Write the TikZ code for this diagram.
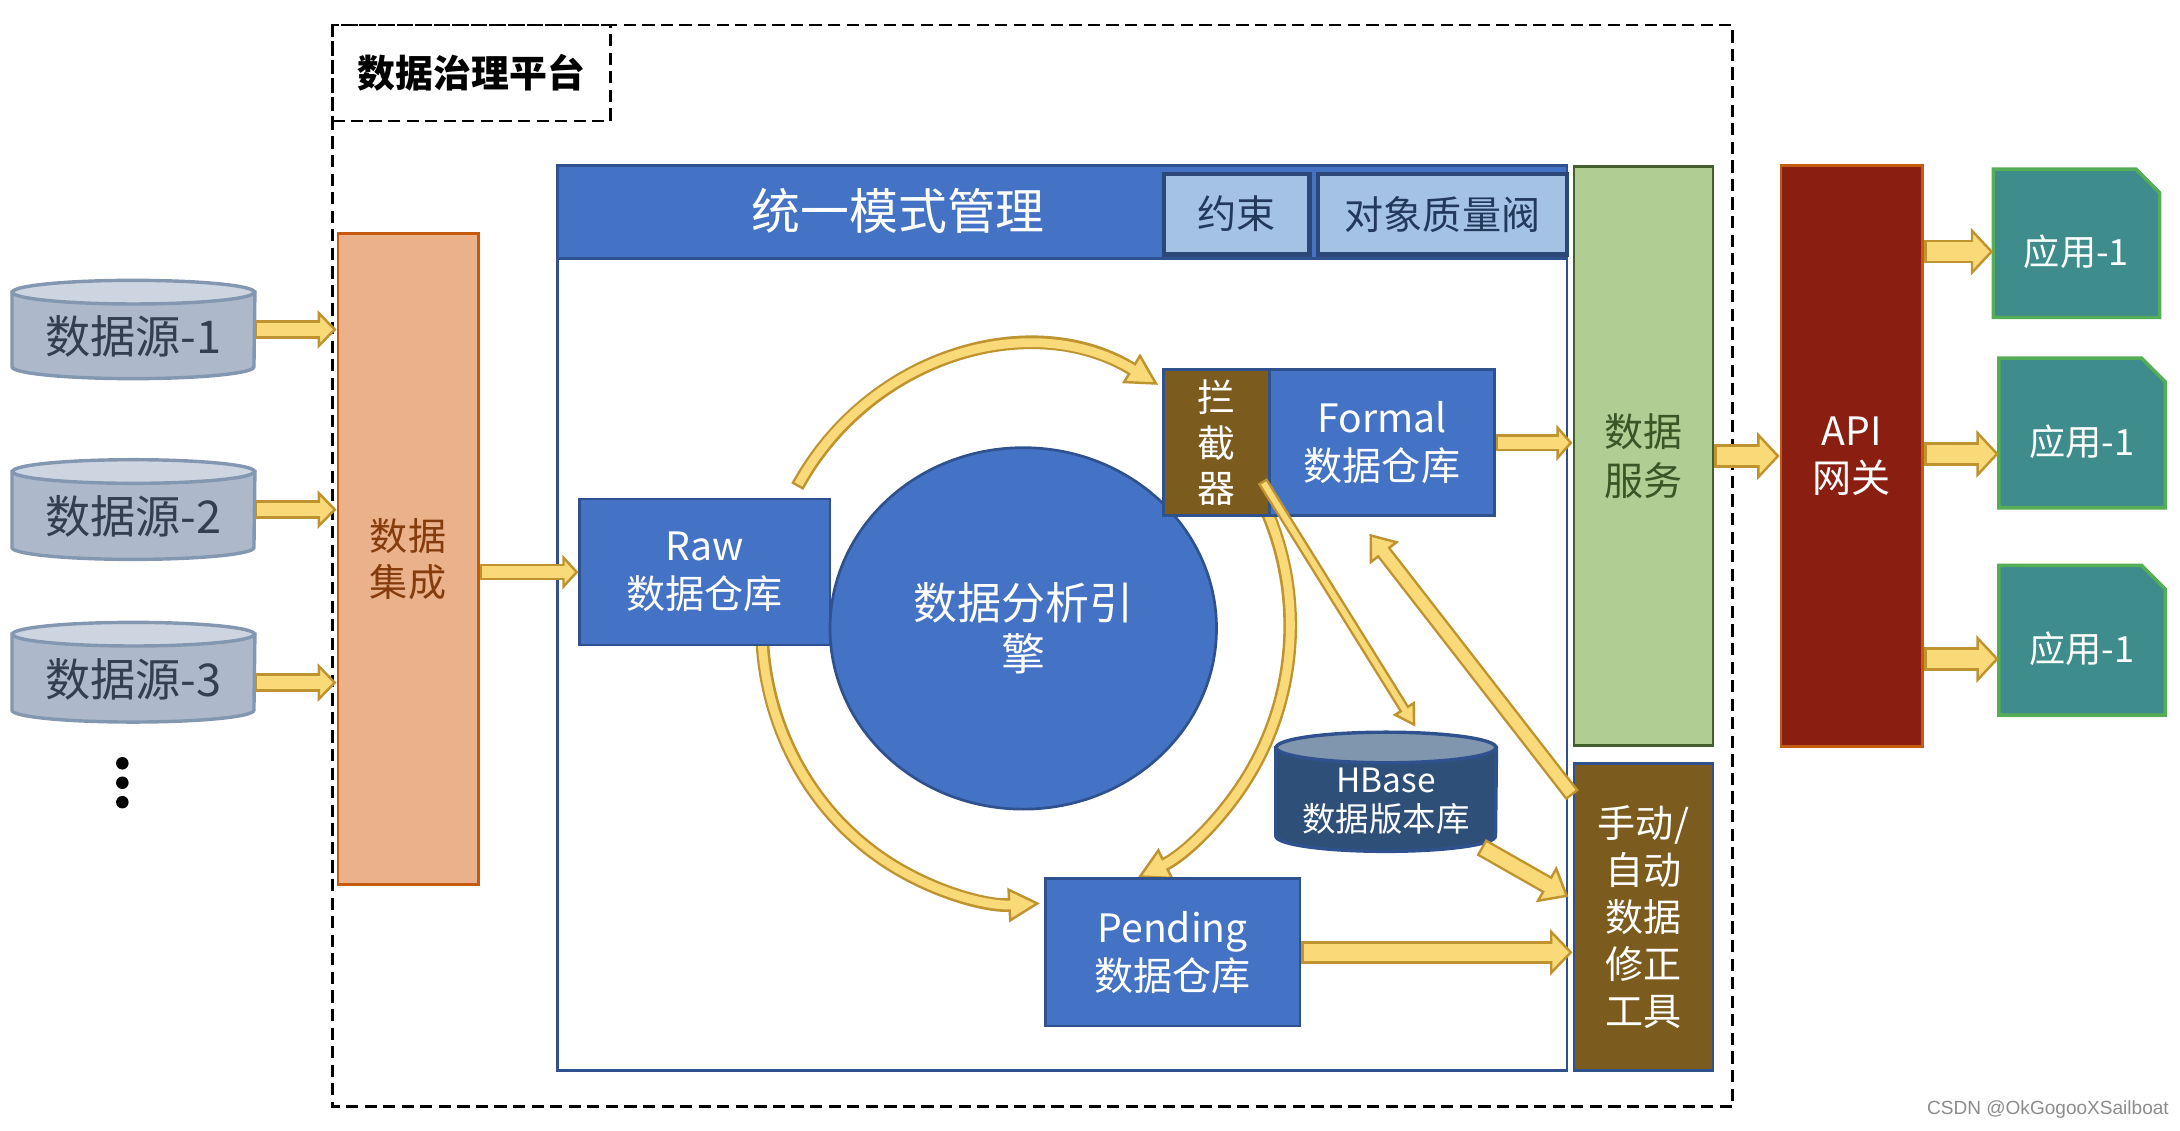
\documentclass[tikz,border=0pt]{standalone}
\usepackage{fontspec}
\setmainfont{Noto Sans CJK SC}
\newfontfamily\markfont{Liberation Sans}
\usetikzlibrary{arrows.meta,calc,shapes.geometric,backgrounds}

\definecolor{mainblue}{HTML}{4472C4}
\definecolor{edgeblue}{HTML}{2F528F}
\definecolor{edgedark}{HTML}{2B4878}
\definecolor{paleblue}{HTML}{A4C2E4}
\definecolor{navytext}{HTML}{23395B}
\definecolor{toolbrown}{HTML}{7B5C1E}
\definecolor{peach}{HTML}{EBB18A}
\definecolor{peachedge}{HTML}{C55A11}
\definecolor{peachtext}{HTML}{843C0C}
\definecolor{sage}{HTML}{B0CD94}
\definecolor{sageedge}{HTML}{435F2E}
\definecolor{sagetext}{HTML}{3B5526}
\definecolor{gatered}{HTML}{8A1F11}
\definecolor{appfill}{HTML}{3E8D8C}
\definecolor{appline}{HTML}{55AD55}
\definecolor{srcfill}{HTML}{ADB9CA}
\definecolor{srccap}{HTML}{CDD5E0}
\definecolor{srcline}{HTML}{8497B0}
\definecolor{srctext}{HTML}{333F50}
\definecolor{hbfill}{HTML}{2D4F78}
\definecolor{hbcap}{HTML}{8096AE}
\definecolor{flowfill}{HTML}{F9D978}
\definecolor{flowedge}{HTML}{BF9330}

\newcommand{\pu}{0.02cm}
% cylinder drawn round an (empty) node: node, half width, cap radius, style prefix
\newcommand{\dbcyl}[4]{%
  \draw[#4body] ($(#1.north west)+(0,#3)$) -- ($(#1.south west)+(0,-#3)$)
    arc[start angle=180, end angle=0, x radius=#2, y radius=#3] -- ($(#1.north east)+(0,#3)$) -- cycle;
  \draw[#4top] ($(#1.north)+(0,#3)$) ellipse[x radius=#2, y radius=#3];}

\tikzset{
  dims/.style 2 args={minimum width=#1*\pu, minimum height=#2*\pu},
  box/.style={draw=edgeblue, line width=1.1pt, fill=mainblue, text=white, inner sep=0pt, align=center},
  flow/.style n args={3}{draw=flowedge, line width=#1,
    -{Triangle[length=#3, width=#2, fill=flowfill, line width=1pt]},
    postaction={draw=flowfill, line width=#1-2pt, -, shorten >=#3-1.3pt, shorten <=1pt}},
  srcflow/.style={flow={7.6pt}{15.6pt}{7.7pt}},
  gateflow/.style={flow={9.6pt}{19.5pt}{9.2pt}},
  ringflow/.style={flow={5.6pt}{14pt}{13pt}},
  srcbody/.style={fill=srcfill, draw=srcline, line width=1.4pt},
  srctop/.style={fill=srccap, draw=srcline, line width=1.4pt},
  hbbody/.style={fill=hbfill, draw=edgeblue, line width=1.4pt},
  hbtop/.style={fill=hbcap, draw=edgeblue, line width=1.4pt},
  srclabel/.style={text=srctext, font=\fontsize{18.5}{21}\selectfont, yshift=-5*\pu},
  applabel/.style={text=white, font=\fontsize{14.8}{17}\selectfont, yshift=-6*\pu},
  appshape/.style={fill=appfill, draw=appline, line width=1.4pt},
  platform/.style={draw=black, line width=1.1pt, dash pattern=on 5pt off 2.6pt},
}

\begin{document}
\begin{tikzpicture}[x=\pu, y=-\pu]
\useasboundingbox (0,0) rectangle (1568,813);

% platform frame
\draw[platform] (239,18) rectangle (1246,796);
\node[platform, dims={200}{69}, inner sep=0pt, font=\fontsize{15.5}{18}\bfseries] (title) at (339,52.5) {数据治理平台};

% data sources
\node[dims={174}{70}, inner sep=0pt, label={[srclabel]center:数据源-1}] (src1) at (96,237) {};
\node[dims={174}{71}, inner sep=0pt, label={[srclabel]center:数据源-2}] (src2) at (96,366.5) {};
\node[dims={174}{71}, inner sep=0pt, label={[srclabel]center:数据源-3}] (src3) at (96,483.5) {};
\foreach \y in {549,563,577} \fill (88,\y) circle[radius=4.5];

\node[box, fill=peach, draw=peachedge, text=peachtext, dims={101}{468}, font=\fontsize{15.6}{19}\selectfont] (int) at (293.5,402) {数据\\集成};

% schema management frame
\draw[edgeblue, line width=1.1pt] (401,119) rectangle (1127,770);
\node[box, dims={726}{67}] (umm) at (764,152.5) {};
\node[text=white, font=\fontsize{20}{24}\selectfont] (ummtitle) at (646,152) {统一模式管理};
\node[box, fill=paleblue, draw=edgedark, line width=1.8pt, text=navytext, dims={105}{58}, font=\fontsize{16}{19}\selectfont] (rule) at (889.5,154) {约束};
\node[box, fill=paleblue, draw=edgedark, line width=1.8pt, text=navytext, dims={179}{58}, font=\fontsize{16}{19}\selectfont] (gate) at (1037.5,154) {对象质量阀};

% ring round the engine
\coordinate (ctr) at (738,450);
\draw[ringflow] ($(ctr)+(-150:190 and 200)$) arc[start angle=-150, end angle=-60, x radius=190, y radius=200];
\draw[ringflow] ($(ctr)+(-28:190 and 200)$) arc[start angle=-28, end angle=65, x radius=190, y radius=200];
\draw[ringflow] ($(ctr)+(-178:190 and 200)$) arc[start angle=-178, end angle=-273, x radius=190, y radius=200];

\node[box, dims={180}{105}, font=\fontsize{16}{19.5}\selectfont] (raw) at (507,411.5) {Raw\\数据仓库};
\node[box, ellipse, dims={278}{260}, font=\fontsize{18}{21}\selectfont] (engine) at (736,452) {数据分析引\\擎};
\node[box, fill=toolbrown, dims={76}{105}, font=\fontsize{15.5}{18.7}\selectfont] (stop) at (875,318.5) {拦\\截\\器};
\node[box, dims={162}{105}, font=\fontsize{16}{19.5}\selectfont] (formal) at (994,318.5) {Formal\\数据仓库};
\node[dims={158}{85}, inner sep=0pt, label={[text=white, align=center, font=\fontsize{13.7}{16}\selectfont, yshift=-7*\pu]center:HBase\\数据版本库}] (hbase) at (997,569.5) {};
\node[box, dims={183}{106}, font=\fontsize{16}{19.5}\selectfont] (pend) at (843.5,685) {Pending\\数据仓库};

% right column
\node[box, fill=sage, draw=sageedge, text=sagetext, dims={100}{416}, font=\fontsize{16}{20}\selectfont] (svc) at (1182,328) {数据\\服务};
\node[box, fill=toolbrown, dims={100}{221}, font=\fontsize{15.6}{19.3}\selectfont] (fix) at (1182,659.5) {手动/\\自动\\数据\\修正\\工具};
\node[box, fill=gatered, draw=peachedge, dims={102}{418}, font=\fontsize{16}{19.3}\selectfont] (api) at (1332,328) {API\\网关};
\node[dims={119}{106}, inner sep=0pt, label={[applabel]center:应用-1}] (app1) at (1493.5,175) {};
\node[dims={119}{107}, inner sep=0pt, label={[applabel]center:应用-1}] (app2) at (1497.5,311.5) {};
\node[dims={119}{107}, inner sep=0pt, label={[applabel]center:应用-1}] (app3) at (1497.5,460.5) {};

\begin{scope}[on background layer]
\dbcyl{src1}{87}{8.5}{src}
\dbcyl{src2}{87}{8.5}{src}
\dbcyl{src3}{87}{8.5}{src}
\dbcyl{hbase}{79}{11}{hb}
\foreach \a in {app1,app2,app3}
  \draw[appshape] (\a.south west) -- (\a.north west) -- ([xshift=-17*\pu]\a.north east)
    -- ([yshift=-17*\pu]\a.north east) -- (\a.south east) -- cycle;
\end{scope}

% flows
\coordinate (src3out) at ($(src3.east)+(0,7.5)$);
\draw[srcflow] (src1.east) -- (src1.east -| int.west);
\draw[srcflow] (src2.east) -- (src2.east -| int.west);
\draw[srcflow] (src3out) -- (src3out -| int.west);
\draw[flow={6.6pt}{14.2pt}{6.6pt}] (int.east |- raw) -- (raw.west);
\draw[flow={7pt}{14.8pt}{6.6pt}] (formal.east) -- (formal.east -| svc.west);
\draw[gateflow] (svc.east) -- (api.west);
\coordinate (app1in) at ($(app1.west)+(0,6)$);
\coordinate (app2in) at ($(app2.west)+(0,15)$);
\coordinate (app3in) at ($(app3.west)+(0,13.5)$);
\draw[gateflow] (app1in -| api.east) -- (app1in);
\draw[gateflow] (app2in -| api.east) -- (app2in);
\draw[gateflow] (app3in -| api.east) -- (app3in);
\draw[flow={4.4pt}{10.5pt}{9pt}] ($(stop.south east)+(-6,-26)$) -- ($(hbase.north)+(21,-4)$);
\draw[flow={6.6pt}{15pt}{10pt}] ($(fix.north west)+(0,24)$) -- ($(formal.south)+(-9,12)$);
\draw[flow={7.6pt}{17pt}{10.5pt}] ($(hbase.south east)+(-11,-3)$) -- ($(fix.north west)+(-3,97)$);
\draw[flow={9.2pt}{19pt}{9.2pt}] (pend.east) -- (pend.east -| fix.west);

\node[text=black!45, font=\markfont\fontsize{7.8}{9}\selectfont] (mark) at (1473,798) {CSDN @OkGogooXSailboat};
\end{tikzpicture}
\end{document}
